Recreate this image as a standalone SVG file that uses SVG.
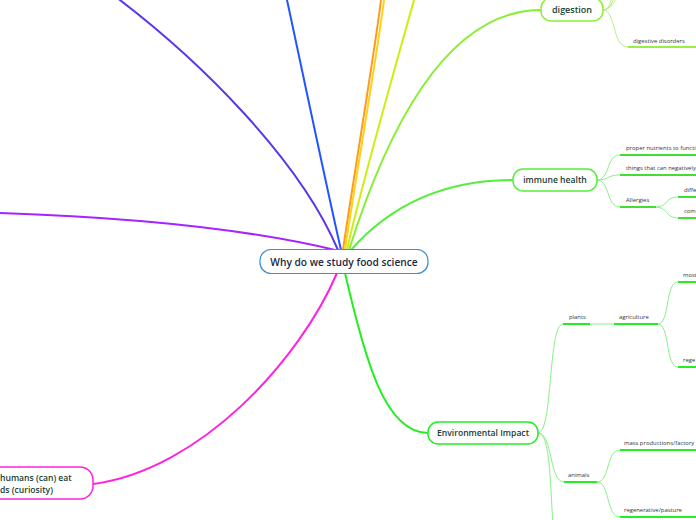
<svg xmlns="http://www.w3.org/2000/svg" width="696" height="520" viewBox="0 0 696 520">
<style>
.main{fill:none;stroke-width:2;stroke-linecap:round}
.sub{fill:none;stroke-width:1}
.ul{fill:none;stroke-width:2}
.nodet{font-family:"Open Sans","Noto Sans",sans-serif;font-weight:600;fill:#163d33;text-anchor:middle}
.lbl{font-family:"Open Sans","Noto Sans",sans-serif;font-size:5.9px;fill:#333}
</style>
<rect width="696" height="520" fill="#fff"/>
<g id="connectors">
<path class="main" stroke="#5a36ee" d="M112,-6 C200,60 300,160 338,250"/>
<path class="main" stroke="#2255ff" d="M287,0 C300,60 325,180 341,250"/>
<path class="main" stroke="#ff9a1f" d="M381,0 C375,50 350,200 343,250"/>
<path class="main" stroke="#ffd21a" d="M384,0 C378,50 352,200 345,250"/>
<path class="main" stroke="#ccee11" d="M414,0 C400,50 360,190 347,250"/>
<path class="main" stroke="#8aee33" d="M349,250 C390,120 450,10 541,10"/>
<path class="main" stroke="#55ee3a" d="M351,250 C395,200 450,180 513,180"/>
<path class="main" stroke="#a722ff" d="M0,213 C150,218 260,232 335,250"/>
<path class="main" stroke="#ff22dd" d="M93,484 C200,470 300,360 337,273"/>
<path class="main" stroke="#22ee22" d="M345,273 C365,360 385,433 428,433"/>
<path class="sub" stroke="#b5f08a" d="M603,10 C612,10 610,-4 615,-12"/>
<path class="sub" stroke="#b5f08a" d="M603,10 C614,9 613,-6 619,-14"/>
<path class="sub" stroke="#b5f08a" d="M603,10 C616,8 616,-6 622,-12"/>
<path class="sub" stroke="#b5f08a" d="M603,10 C616,10 612,47 628,47"/>
<path class="ul" stroke="#99ee44" d="M628,47 H696"/>
<path class="sub" stroke="#8ef08a" d="M597,180 C610,180 606,155 620,155"/>
<path class="ul" stroke="#44dd33" d="M620,155 H696"/>
<path class="sub" stroke="#8ef08a" d="M597,180 C610,180 606,175 620,175"/>
<path class="ul" stroke="#44dd33" d="M620,175 H696"/>
<path class="sub" stroke="#8ef08a" d="M597,180 C610,180 606,207 620,207"/>
<path class="ul" stroke="#44dd33" d="M620,207 H656"/>
<path class="sub" stroke="#8ef08a" d="M656,207 C668,207 665,197 678,197"/>
<path class="ul" stroke="#44dd33" d="M678,197 H696"/>
<path class="sub" stroke="#8ef08a" d="M656,207 C668,207 665,218 678,218"/>
<path class="ul" stroke="#44dd33" d="M678,218 H696"/>
<path class="sub" stroke="#88f088" d="M538,433 C553,433 548,324 563,324"/>
<path class="ul" stroke="#22ee22" d="M563,324 H590"/>
<path class="sub" stroke="#88f088" d="M590,324 H614"/>
<path class="ul" stroke="#22ee22" d="M614,324 H658"/>
<path class="sub" stroke="#88f088" d="M658,324 C670,324 665,282 678,282"/>
<path class="ul" stroke="#22ee22" d="M678,282 H696"/>
<path class="sub" stroke="#88f088" d="M658,324 C670,324 665,367 678,367"/>
<path class="ul" stroke="#22ee22" d="M678,367 H696"/>
<path class="sub" stroke="#88f088" d="M538,433 C553,433 549,482 564,482"/>
<path class="ul" stroke="#22ee22" d="M564,482 H597"/>
<path class="sub" stroke="#88f088" d="M597,482 C610,482 606,450 620,450"/>
<path class="ul" stroke="#22ee22" d="M620,450 H696"/>
<path class="sub" stroke="#88f088" d="M597,482 C610,482 606,517 620,517"/>
<path class="ul" stroke="#22ee22" d="M620,517 H696"/>
<path class="sub" stroke="#88f088" d="M538,433 C550,433 550,480 553,525"/>
</g>
<g id="central">
<rect x="260" y="249.5" width="168" height="24" rx="11" fill="#fff" stroke="#3a8fd4" stroke-width="1.2"/>
<text class="nodet" x="344" y="265.5" font-size="10.2" style="fill:#1b2747">Why do we study food science</text>
</g>
<g id="digestion">
<rect x="541" y="-2" width="62" height="23" rx="10" fill="#fff" stroke="#8aee33" stroke-width="1.5"/>
<text class="nodet" x="572" y="13" font-size="9">digestion</text>
</g>
<g id="digestive-disorders"><text class="lbl" x="633" y="42.5">digestive disorders</text></g>
<g id="immune">
<rect x="513" y="169" width="84" height="22" rx="10" fill="#fff" stroke="#55ee3a" stroke-width="1.5"/>
<text class="nodet" x="555" y="183" font-size="8.6">immune health</text>
</g>
<g id="proper-nutrients"><text class="lbl" x="626" y="149.5">proper nutrients to functi</text></g>
<g id="things-negatively"><text class="lbl" x="626" y="169.5">things that can negatively</text></g>
<g id="allergies"><text class="lbl" x="626" y="202">Allergies</text></g>
<g id="diffe"><text class="lbl" x="684" y="191.5">diffe</text></g>
<g id="com"><text class="lbl" x="684" y="212.5">com</text></g>
<g id="environmental">
<rect x="428" y="422" width="110" height="22" rx="10" fill="#fff" stroke="#22ee22" stroke-width="1.5"/>
<text class="nodet" x="483" y="436" font-size="8.6">Environmental Impact</text>
</g>
<g id="plants"><text class="lbl" x="569" y="319">plants</text></g>
<g id="agriculture"><text class="lbl" x="619" y="319">agriculture</text></g>
<g id="most"><text class="lbl" x="683" y="277">most</text></g>
<g id="rege"><text class="lbl" x="683" y="362">rege</text></g>
<g id="animals"><text class="lbl" x="568" y="477">animals</text></g>
<g id="mass-productions"><text class="lbl" x="624" y="445">mass productions/factory</text></g>
<g id="regenerative"><text class="lbl" x="624" y="512">regenerative/pasture</text></g>
<g id="curiosity">
<rect x="-40" y="467" width="133" height="32" rx="13" fill="#fff" stroke="#ff22dd" stroke-width="1.5"/>
<text class="nodet" x="0" y="481" font-size="8.6" style="text-anchor:start">humans (can) eat</text>
<text class="nodet" x="0" y="493" font-size="8.6" style="text-anchor:start">ds (curiosity)</text>
</g>
</svg>
